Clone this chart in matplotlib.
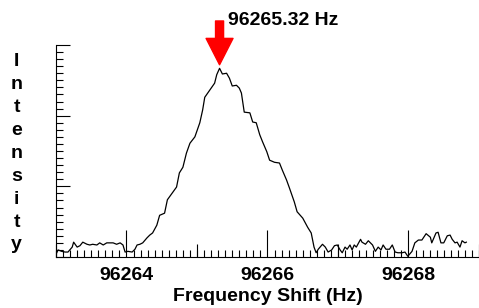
import matplotlib
matplotlib.use('Agg')
import matplotlib.pyplot as plt
from matplotlib.ticker import MultipleLocator

# 频谱数据
freq = [
    96263.00, 96263.03, 96263.08, 96263.13, 96263.17, 96263.23, 96263.25, 96263.30, 96263.34, 96263.38,
    96263.44, 96263.48, 96263.52, 96263.58, 96263.62, 96263.67, 96263.72, 96263.76, 96263.81, 96263.86,
    96263.91, 96263.95, 96263.98, 96264.02, 96264.08, 96264.12, 96264.15, 96264.19, 96264.23, 96264.29,
    96264.33, 96264.37, 96264.43, 96264.47, 96264.54, 96264.58, 96264.66, 96264.71, 96264.75, 96264.80,
    96264.85, 96264.90, 96264.97, 96265.04, 96265.08, 96265.11, 96265.18, 96265.25, 96265.28, 96265.32,
    96265.36, 96265.42, 96265.46, 96265.50, 96265.56, 96265.60, 96265.63, 96265.67, 96265.75, 96265.79,
    96265.84, 96265.89, 96265.93, 96265.99, 96266.03, 96266.10, 96266.17, 96266.21, 96266.27, 96266.31,
    96266.38, 96266.42, 96266.50, 96266.57, 96266.62, 96266.66, 96266.69, 96266.72, 96266.78, 96266.82,
    96266.86, 96266.91, 96266.95, 96266.99, 96267.03, 96267.06, 96267.10, 96267.13, 96267.17, 96267.20,
    96267.23, 96267.26, 96267.32, 96267.34, 96267.39, 96267.43, 96267.49, 96267.53, 96267.57, 96267.61,
    96267.64, 96267.68, 96267.73, 96267.77, 96267.81, 96267.85, 96267.91, 96267.95, 96267.99, 96268.05,
    96268.09, 96268.14, 96268.19, 96268.25, 96268.31, 96268.33, 96268.39, 96268.42, 96268.46, 96268.50,
    96268.55, 96268.59, 96268.62, 96268.66, 96268.69, 96268.73, 96268.76, 96268.80, 96268.82,
]
intensity = [
    0.04, 0.10, 0.08, 0.07, 0.07, 0.14, 0.21, 0.14, 0.16, 0.21,
    0.18, 0.17, 0.18, 0.17, 0.20, 0.17, 0.20, 0.20, 0.20, 0.18,
    0.20, 0.17, 0.07, 0.08, 0.07, 0.11, 0.17, 0.18, 0.20, 0.27,
    0.31, 0.34, 0.45, 0.59, 0.62, 0.81, 0.92, 0.99, 1.19, 1.27,
    1.47, 1.61, 1.70, 1.90, 2.08, 2.26, 2.36, 2.46, 2.58, 2.67,
    2.59, 2.60, 2.53, 2.42, 2.43, 2.39, 2.32, 2.05, 2.04, 1.91,
    1.90, 1.73, 1.63, 1.49, 1.37, 1.34, 1.33, 1.23, 1.09, 0.98,
    0.78, 0.64, 0.55, 0.42, 0.34, 0.14, 0.06, 0.11, 0.18, 0.14,
    0.07, 0.10, 0.16, 0.17, 0.10, 0.06, 0.14, 0.11, 0.17, 0.10,
    0.17, 0.14, 0.25, 0.21, 0.18, 0.23, 0.17, 0.08, 0.14, 0.10,
    0.17, 0.11, 0.11, 0.17, 0.07, 0.06, 0.06, 0.07, 0.01, 0.08,
    0.20, 0.24, 0.24, 0.33, 0.28, 0.20, 0.34, 0.35, 0.20, 0.20,
    0.30, 0.31, 0.25, 0.20, 0.21, 0.14, 0.23, 0.20, 0.21,
]
peak_freq = 96265.32
x_major = [96264, 96266, 96268]
x_mid = [96263, 96265, 96267, 96269]
x_labels = ['96264', '96266', '96268']

plt.rcParams['font.family'] = ['Liberation Sans', 'DejaVu Sans']
plt.rcParams['font.weight'] = 'bold'

fig = plt.figure(figsize=(4.79, 3.08), dpi=100)
ax = fig.add_axes([0.1169, 0.1656, 0.8831, 0.6883])

ax.plot(freq, intensity, color='black', linewidth=0.9)

ax.set_xlim(96263, 96269)
ax.set_ylim(0, 3)
ax.spines['top'].set_visible(False)
ax.spines['right'].set_visible(False)
for s in ['left', 'bottom']:
    ax.spines[s].set_linewidth(0.8)

# y轴刻度（无标签）
ax.yaxis.set_major_locator(MultipleLocator(1))
ax.yaxis.set_minor_locator(MultipleLocator(0.1))
ax.tick_params(axis='y', which='major', direction='in', length=10, width=0.8, labelleft=False)
ax.tick_params(axis='y', which='minor', direction='in', length=5, width=0.8)

# x轴刻度
ax.set_xticks(x_major)
ax.set_xticklabels(x_labels, fontsize=14, fontweight='bold')
ax.xaxis.set_minor_locator(MultipleLocator(0.1))
ax.tick_params(axis='x', which='major', direction='in', length=19.5, width=0.8, pad=7)
ax.tick_params(axis='x', which='minor', direction='in', length=5, width=0.8)

# 奇数整数处的中等刻度
sec = ax.secondary_xaxis('bottom')
sec.set_xticks(x_mid)
sec.tick_params(direction='in', length=9.5, width=0.8, labelbottom=False)
sec.spines['bottom'].set_visible(False)

ax.set_xlabel('Frequency Shift (Hz)', fontsize=14, fontweight='bold', labelpad=3)

# 纵向的 Intensity 标签
fig.text(0.035, 0.503, '\n'.join('Intensity'), fontsize=14, fontweight='bold',
         ha='center', va='center', multialignment='center', linespacing=1.46)

# 峰值红色箭头
ax.annotate('', xy=(peak_freq, 2.72), xytext=(peak_freq, 3.34),
            arrowprops=dict(facecolor='red', edgecolor='red', width=5.8,
                            headwidth=19.4, headlength=19, shrink=0),
            annotation_clip=False)
ax.annotate(f'{peak_freq:.2f} Hz', xy=(peak_freq, 3.34), xytext=(6, 0),
            textcoords='offset points', ha='left', va='center',
            fontsize=14, fontweight='bold', annotation_clip=False)

fig.savefig('out.png', dpi=100)
